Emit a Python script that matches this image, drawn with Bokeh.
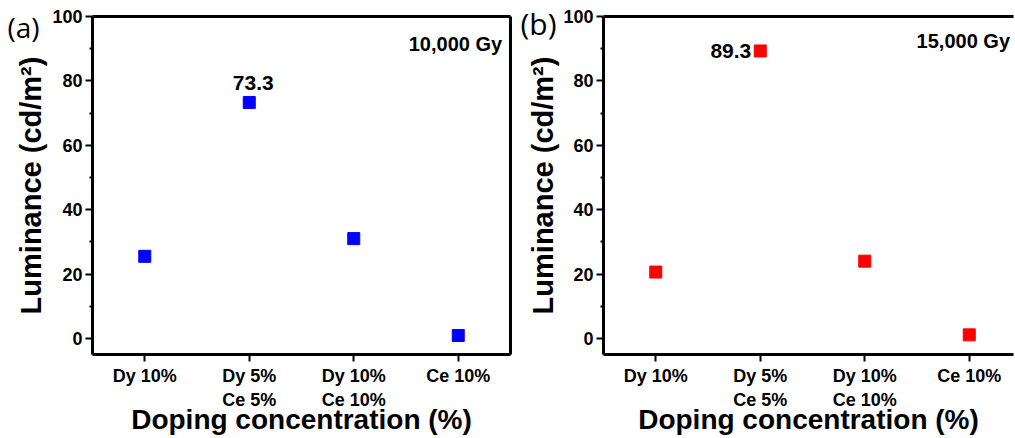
from bokeh.plotting import figure
from bokeh.layouts import row
from bokeh.models import LinearAxis, FixedTicker, Label, Range1d, Title
from bokeh.embed import file_html
from bokeh.resources import INLINE

# ---- data ----
categories = ["Dy 10%", "Dy 5%\nCe 5%", "Dy 10%\nCe 10%", "Ce 10%"]
x_pos = [1, 2, 3, 4]
lum_10k = [25.5, 73.3, 31.0, 0.9]
lum_15k = [20.6, 89.3, 24.0, 1.1]
y_ticks = [0, 20, 40, 60, 80, 100]

FONT = "Liberation Sans"


def blank_axis():
    return LinearAxis(ticker=FixedTicker(ticks=[]), major_label_text_font_size="0px",
                      major_tick_in=0, major_tick_out=0, minor_tick_in=0, minor_tick_out=0,
                      major_label_standoff=0, axis_line_width=3, axis_line_color="black")


def make_panel(width, left, right, xend, values, color, dose_text, dose_xy, with_right, ystand,
               panel_text, panel_offset, panel_standoff, panel_size):
    p = figure(width=width, height=438, output_backend="svg", toolbar_location=None,
               x_range=Range1d(0.5, xend), y_range=Range1d(-5, 100),
               min_border_left=left, min_border_right=right, min_border_top=16, min_border_bottom=84)
    p.outline_line_color = None
    p.xgrid.visible = False
    p.ygrid.visible = False
    p.background_fill_color = "white"
    p.border_fill_color = "white"

    xa = p.xaxis[0]
    xa.ticker = FixedTicker(ticks=x_pos)
    xa.major_label_overrides = {x: c for x, c in zip(x_pos, categories)}
    xa.axis_line_width = 3
    xa.major_tick_line_width = 2
    xa.major_tick_in = 0
    xa.major_tick_out = 7
    xa.minor_tick_line_color = None
    xa.major_label_standoff = 4
    xa.major_label_text_font = FONT
    xa.major_label_text_font_style = "bold"
    xa.major_label_text_font_size = "18px"
    xa.major_label_text_color = "black"
    xa.axis_label = "Doping concentration (%)"
    xa.axis_label_text_font = FONT
    xa.axis_label_text_font_style = "bold"
    xa.axis_label_text_font_size = "28px"
    xa.axis_label_standoff = -9
    xa.axis_label_text_color = "black"

    ya = p.yaxis[0]
    ya.ticker = FixedTicker(ticks=y_ticks, minor_ticks=[10, 30, 50, 70, 90])
    ya.axis_line_width = 3
    ya.major_tick_line_width = 2
    ya.major_tick_in = 0
    ya.major_tick_out = 7
    ya.minor_tick_in = 0
    ya.minor_tick_out = 3
    ya.minor_tick_line_width = 2
    ya.major_label_standoff = 3
    ya.major_label_text_font = FONT
    ya.major_label_text_font_style = "bold"
    ya.major_label_text_font_size = "18px"
    ya.major_label_text_color = "black"
    ya.axis_label = "Luminance (cd/m²)"
    ya.axis_label_text_font = FONT
    ya.axis_label_text_font_style = "bold"
    ya.axis_label_text_font_size = "29px"
    ya.axis_label_standoff = ystand
    ya.axis_label_text_color = "black"

    p.add_layout(blank_axis(), "above")
    if with_right:
        p.add_layout(blank_axis(), "right")

    p.add_layout(Title(text=panel_text, align="left", offset=panel_offset, standoff=panel_standoff,
                       text_font="Open Sans", text_font_style="normal", text_font_size=panel_size,
                       text_color="black"), "above")

    p.scatter(x_pos, values, marker="square", size=12, fill_color=color, line_color=color)

    p.add_layout(Label(x=dose_xy[0], y=dose_xy[1], text=dose_text, text_align="right",
                       text_baseline="middle", text_font=FONT, text_font_style="bold",
                       text_font_size="20px", text_color="black"))
    return p


pa = make_panel(512, 92, 2, 4.5, lum_10k, "#0000ff", "10,000 Gy", (4.42, 91.6), True, 2,
                "(a)", -85, -58, "28px")
pa.add_layout(Label(x=x_pos[1], y=lum_10k[1], x_offset=4, y_offset=12, text=f"{lum_10k[1]:.1f}",
                    text_align="center", text_baseline="bottom", text_font=FONT, text_font_style="bold",
                    text_font_size="21px", text_color="black"))

pb = make_panel(503, 91, 2, 0.5 + 410 / 104.5, lum_15k, "#ff0000", "15,000 Gy", (4.39, 92.5), False, 1,
                "(b)", -83, -55, "30px")
pb.add_layout(Label(x=x_pos[1], y=lum_15k[1], x_offset=-9, text=f"{lum_15k[1]:.1f}", text_align="right",
                    text_baseline="middle", text_font=FONT, text_font_style="bold",
                    text_font_size="21px", text_color="black"))

layout = row(pa, pb)
open("out.html", "w").write(file_html(layout, INLINE))
